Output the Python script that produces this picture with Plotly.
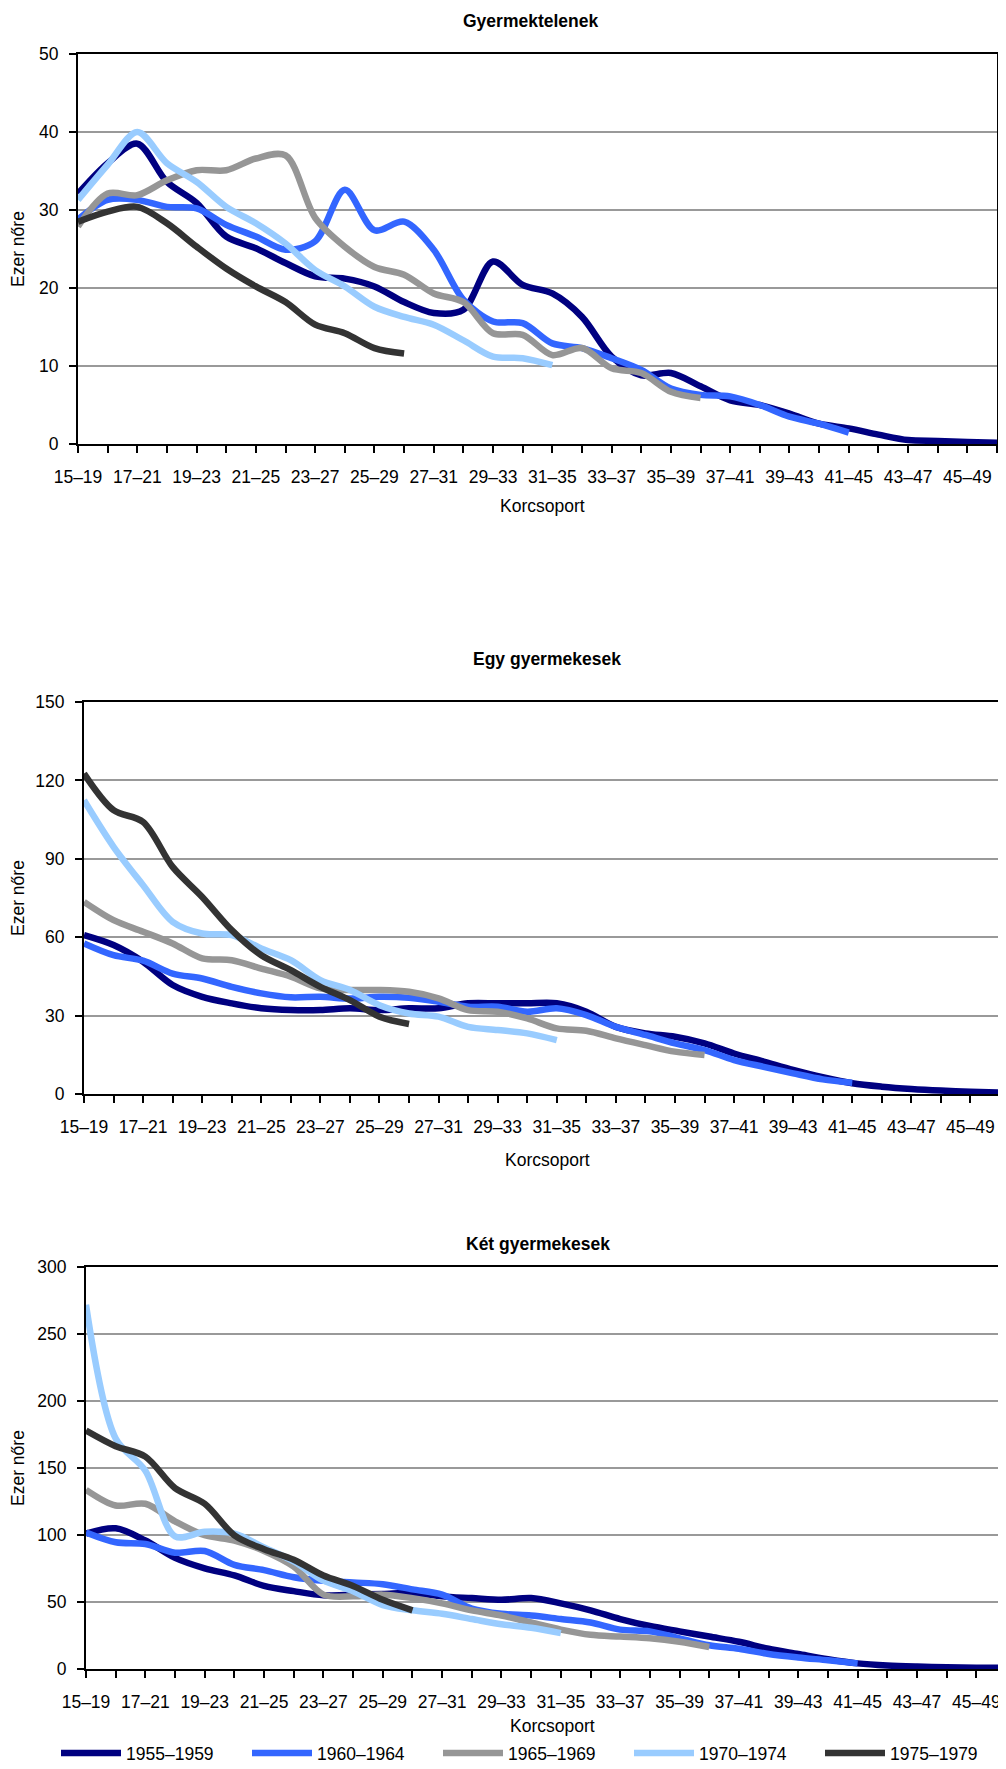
import plotly.graph_objects as go

# ---------------- data ----------------
categories = ["15–19", "16–20", "17–21", "18–22", "19–23", "20–24", "21–25", "22–26",
              "23–27", "24–28", "25–29", "26–30", "27–31", "28–32", "29–33", "30–34",
              "31–35", "32–36", "33–37", "34–38", "35–39", "36–40", "37–41", "38–42",
              "39–43", "40–44", "41–45", "42–46", "43–47", "44–48", "45–49", "46–50"]

series_names = ["1955–1959", "1960–1964", "1965–1969", "1970–1974", "1975–1979"]

# Gyermektelenek
childless_1955 = [32.1, 36.0, 38.5, 33.6, 30.9, 26.6, 25.1, 23.2, 21.5, 21.2, 20.2, 18.2, 16.8, 17.2, 23.4, 20.4,
                  19.3, 16.3, 11.2, 8.8, 9.1, 7.4, 5.6, 5.0, 3.9, 2.6, 2.0, 1.2, 0.5, 0.4, 0.25, 0.15]
childless_1960 = [28.8, 31.3, 31.3, 30.4, 30.2, 28.1, 26.6, 24.9, 26.0, 32.6, 27.4, 28.5, 24.9, 18.5, 15.7, 15.5,
                  12.9, 12.3, 11.0, 9.5, 7.1, 6.3, 6.1, 5.0, 3.5, 2.6, 1.45]
childless_1965 = [27.9, 32.1, 31.9, 33.8, 35.1, 35.1, 36.6, 37.0, 29.0, 25.3, 22.7, 21.7, 19.3, 18.2, 14.2, 14.0,
                  11.4, 12.3, 9.7, 9.1, 6.7, 5.9]
childless_1970 = [31.3, 35.8, 40.0, 36.0, 33.6, 30.4, 28.3, 25.7, 22.3, 20.2, 17.6, 16.3, 15.3, 13.3, 11.2, 11.0,
                  10.1]
childless_1975 = [28.5, 29.8, 30.4, 28.3, 25.3, 22.5, 20.2, 18.2, 15.3, 14.2, 12.3, 11.6]

# Egy gyermekesek
one_child_1955 = [60.8, 57.0, 50.6, 41.7, 37.2, 34.7, 32.8, 32.1, 32.1, 32.8, 32.1, 32.8, 32.8, 34.7, 34.7, 34.7,
                  34.7, 31.5, 25.7, 23.2, 21.9, 19.4, 15.5, 12.4, 9.2, 6.4, 4.1, 2.8, 1.9, 1.3, 0.9, 0.6]
one_child_1960 = [57.6, 53.1, 51.0, 46.1, 44.2, 41.0, 38.5, 37.0, 37.2, 36.5, 37.2, 36.8, 35.3, 33.4, 33.4, 31.5,
                  32.8, 30.2, 25.7, 22.6, 19.4, 16.8, 13.0, 10.4, 7.9, 5.6, 4.3]
one_child_1965 = [73.5, 66.5, 62.1, 57.6, 51.9, 51.2, 48.0, 44.9, 40.4, 39.8, 39.8, 39.1, 36.6, 32.1, 31.5, 28.9,
                  25.1, 24.2, 21.3, 18.7, 16.2, 14.9]
one_child_1970 = [112.4, 94.6, 79.9, 65.9, 61.4, 60.8, 55.7, 51.2, 43.6, 39.8, 34.0, 30.8, 29.6, 25.7, 24.5, 23.2,
                  20.6]
one_child_1975 = [122.6, 108.6, 104.1, 86.9, 75.4, 62.7, 53.1, 47.4, 41.0, 35.9, 29.6, 26.8]

# Két gyermekesek
two_child_1955 = [101.1, 105.0, 95.9, 82.9, 75.1, 69.8, 62.0, 58.1, 55.0, 55.5, 56.0, 56.8, 54.2, 52.9, 51.6, 52.9,
                  49.0, 43.8, 37.3, 32.1, 28.1, 24.2, 20.3, 15.1, 11.2, 7.3, 4.2, 2.6, 1.8, 1.3, 1.0, 0.8]
two_child_1960 = [101.9, 94.6, 93.3, 86.8, 88.1, 77.7, 73.8, 68.5, 65.9, 64.6, 63.3, 59.4, 55.5, 45.1, 41.2, 39.9,
                  37.3, 34.7, 29.4, 28.1, 22.9, 17.7, 15.1, 11.2, 8.6, 6.5, 4.2]
two_child_1965 = [133.7, 122.0, 123.3, 110.2, 99.8, 95.9, 88.1, 76.4, 55.5, 54.2, 55.5, 52.9, 49.0, 43.8, 39.9, 34.7,
                  29.4, 25.5, 24.2, 22.9, 20.3, 16.4]
two_child_1970 = [271.8, 172.0, 148.0, 99.0, 102.4, 101.0, 90.7, 80.3, 65.9, 58.1, 47.7, 43.8, 41.2, 37.3, 33.4,
                  30.8, 26.8]
two_child_1975 = [178.0, 166.3, 158.5, 135.0, 123.3, 99.8, 89.4, 81.6, 69.8, 62.0, 51.6, 43.8]

panel_titles = ["Gyermektelenek", "Egy gyermekesek", "Két gyermekesek"]
panel_data = [
    [childless_1955, childless_1960, childless_1965, childless_1970, childless_1975],
    [one_child_1955, one_child_1960, one_child_1965, one_child_1970, one_child_1975],
    [two_child_1955, two_child_1960, two_child_1965, two_child_1970, two_child_1975],
]
y_max = [50, 150, 300]
y_step = [10, 30, 50]
x_title = "Korcsoport"
y_title = "Ezer nőre"

# ---------------- style ----------------
colors = ["#000080", "#3366FF", "#969696", "#99CCFF", "#333333"]
W, H = 1006, 1769
OFF = 8  # the page body adds an 8px margin around the figure
FONT = "Liberation Sans, Arial, Helvetica, sans-serif"
fs_tick, fs_title, fs_axis, fs_leg = 17.5, 17.5, 17.5, 17.5

# target plot-area boxes on screen (pixels): left, right, top, bottom
boxes = [(78, 997, 54, 444), (84, 1000, 702, 1094), (86, 1006, 1267, 1669)]
title_pos = [(530, 21), (547, 659), (538, 1244)]
xtitle_pos = [(542, 506), (547, 1160), (552, 1726)]
ytitle_x = 18


def px(x):
    return (x - OFF) / W


def py(y):
    return 1 - (y - OFF) / H


fig = go.Figure()
ticktext = [c if i % 2 == 0 else "" for i, c in enumerate(categories)]

layout = dict(
    template="none",
    width=W, height=H,
    margin=dict(l=0, r=0, t=0, b=0, pad=0, autoexpand=False),
    paper_bgcolor="white", plot_bgcolor="white",
    font=dict(family=FONT, size=fs_tick, color="black"),
    showlegend=True,
    annotations=[],
)

for k in range(3):
    l, r, t, b = boxes[k]
    suffix = "" if k == 0 else str(k + 1)
    for j, vals in enumerate(panel_data[k]):
        fig.add_trace(go.Scatter(
            x=categories[:len(vals)], y=vals, mode="lines",
            name=series_names[j], legendgroup=series_names[j], showlegend=(k == 0),
            line=dict(color=colors[j], width=6.5, shape="spline", smoothing=0.9),
            xaxis="x" + suffix, yaxis="y" + suffix,
            hoverinfo="x+y+name",
        ))
    layout["xaxis" + suffix] = dict(
        domain=[px(l), min(1.0, px(r))], anchor="y" + suffix,
        type="category", categoryorder="array", categoryarray=categories,
        range=[0, len(categories) - 1], automargin=False,
        tickmode="array", tickvals=categories, ticktext=ticktext,
        ticks="outside", ticklen=7, tickwidth=2, tickcolor="black",
        ticklabelstandoff=9,
        showline=True, linecolor="black", linewidth=2, mirror=True,
        showgrid=False, zeroline=False,
        tickfont=dict(family=FONT, size=fs_tick, color="black"),
    )
    layout["yaxis" + suffix] = dict(
        domain=[py(b), py(t)], anchor="x" + suffix,
        range=[0, y_max[k]], tickmode="linear", tick0=0, dtick=y_step[k],
        automargin=False,
        ticks="outside", ticklen=7, tickwidth=2, tickcolor="black",
        ticklabelstandoff=7,
        showline=True, linecolor="black", linewidth=2, mirror=True,
        showgrid=True, gridcolor="#999999", gridwidth=2, zeroline=False,
        tickfont=dict(family=FONT, size=fs_tick, color="black"),
    )
    tx, ty = title_pos[k]
    layout["annotations"].append(dict(
        text="<b>" + panel_titles[k] + "</b>", x=px(tx), y=py(ty), xref="paper", yref="paper",
        xanchor="center", yanchor="middle", showarrow=False,
        font=dict(family=FONT, size=fs_title, color="black")))
    xx, xy = xtitle_pos[k]
    layout["annotations"].append(dict(
        text=x_title, x=px(xx), y=py(xy), xref="paper", yref="paper",
        xanchor="center", yanchor="middle", showarrow=False,
        font=dict(family=FONT, size=fs_axis, color="black")))
    layout["annotations"].append(dict(
        text=y_title, x=px(ytitle_x), y=py((t + b) / 2), xref="paper", yref="paper",
        xanchor="center", yanchor="middle", showarrow=False, textangle=-90,
        font=dict(family=FONT, size=fs_axis, color="black")))

layout["legend"] = dict(
    orientation="h", x=px(56), y=py(1753), xanchor="left", yanchor="middle",
    entrywidth=116, entrywidthmode="pixels", itemwidth=60,
    font=dict(family=FONT, size=fs_leg, color="black"),
    bgcolor="rgba(0,0,0,0)", borderwidth=0, traceorder="normal",
)

fig.update_layout(**layout)
fig.write_html("out.html")
